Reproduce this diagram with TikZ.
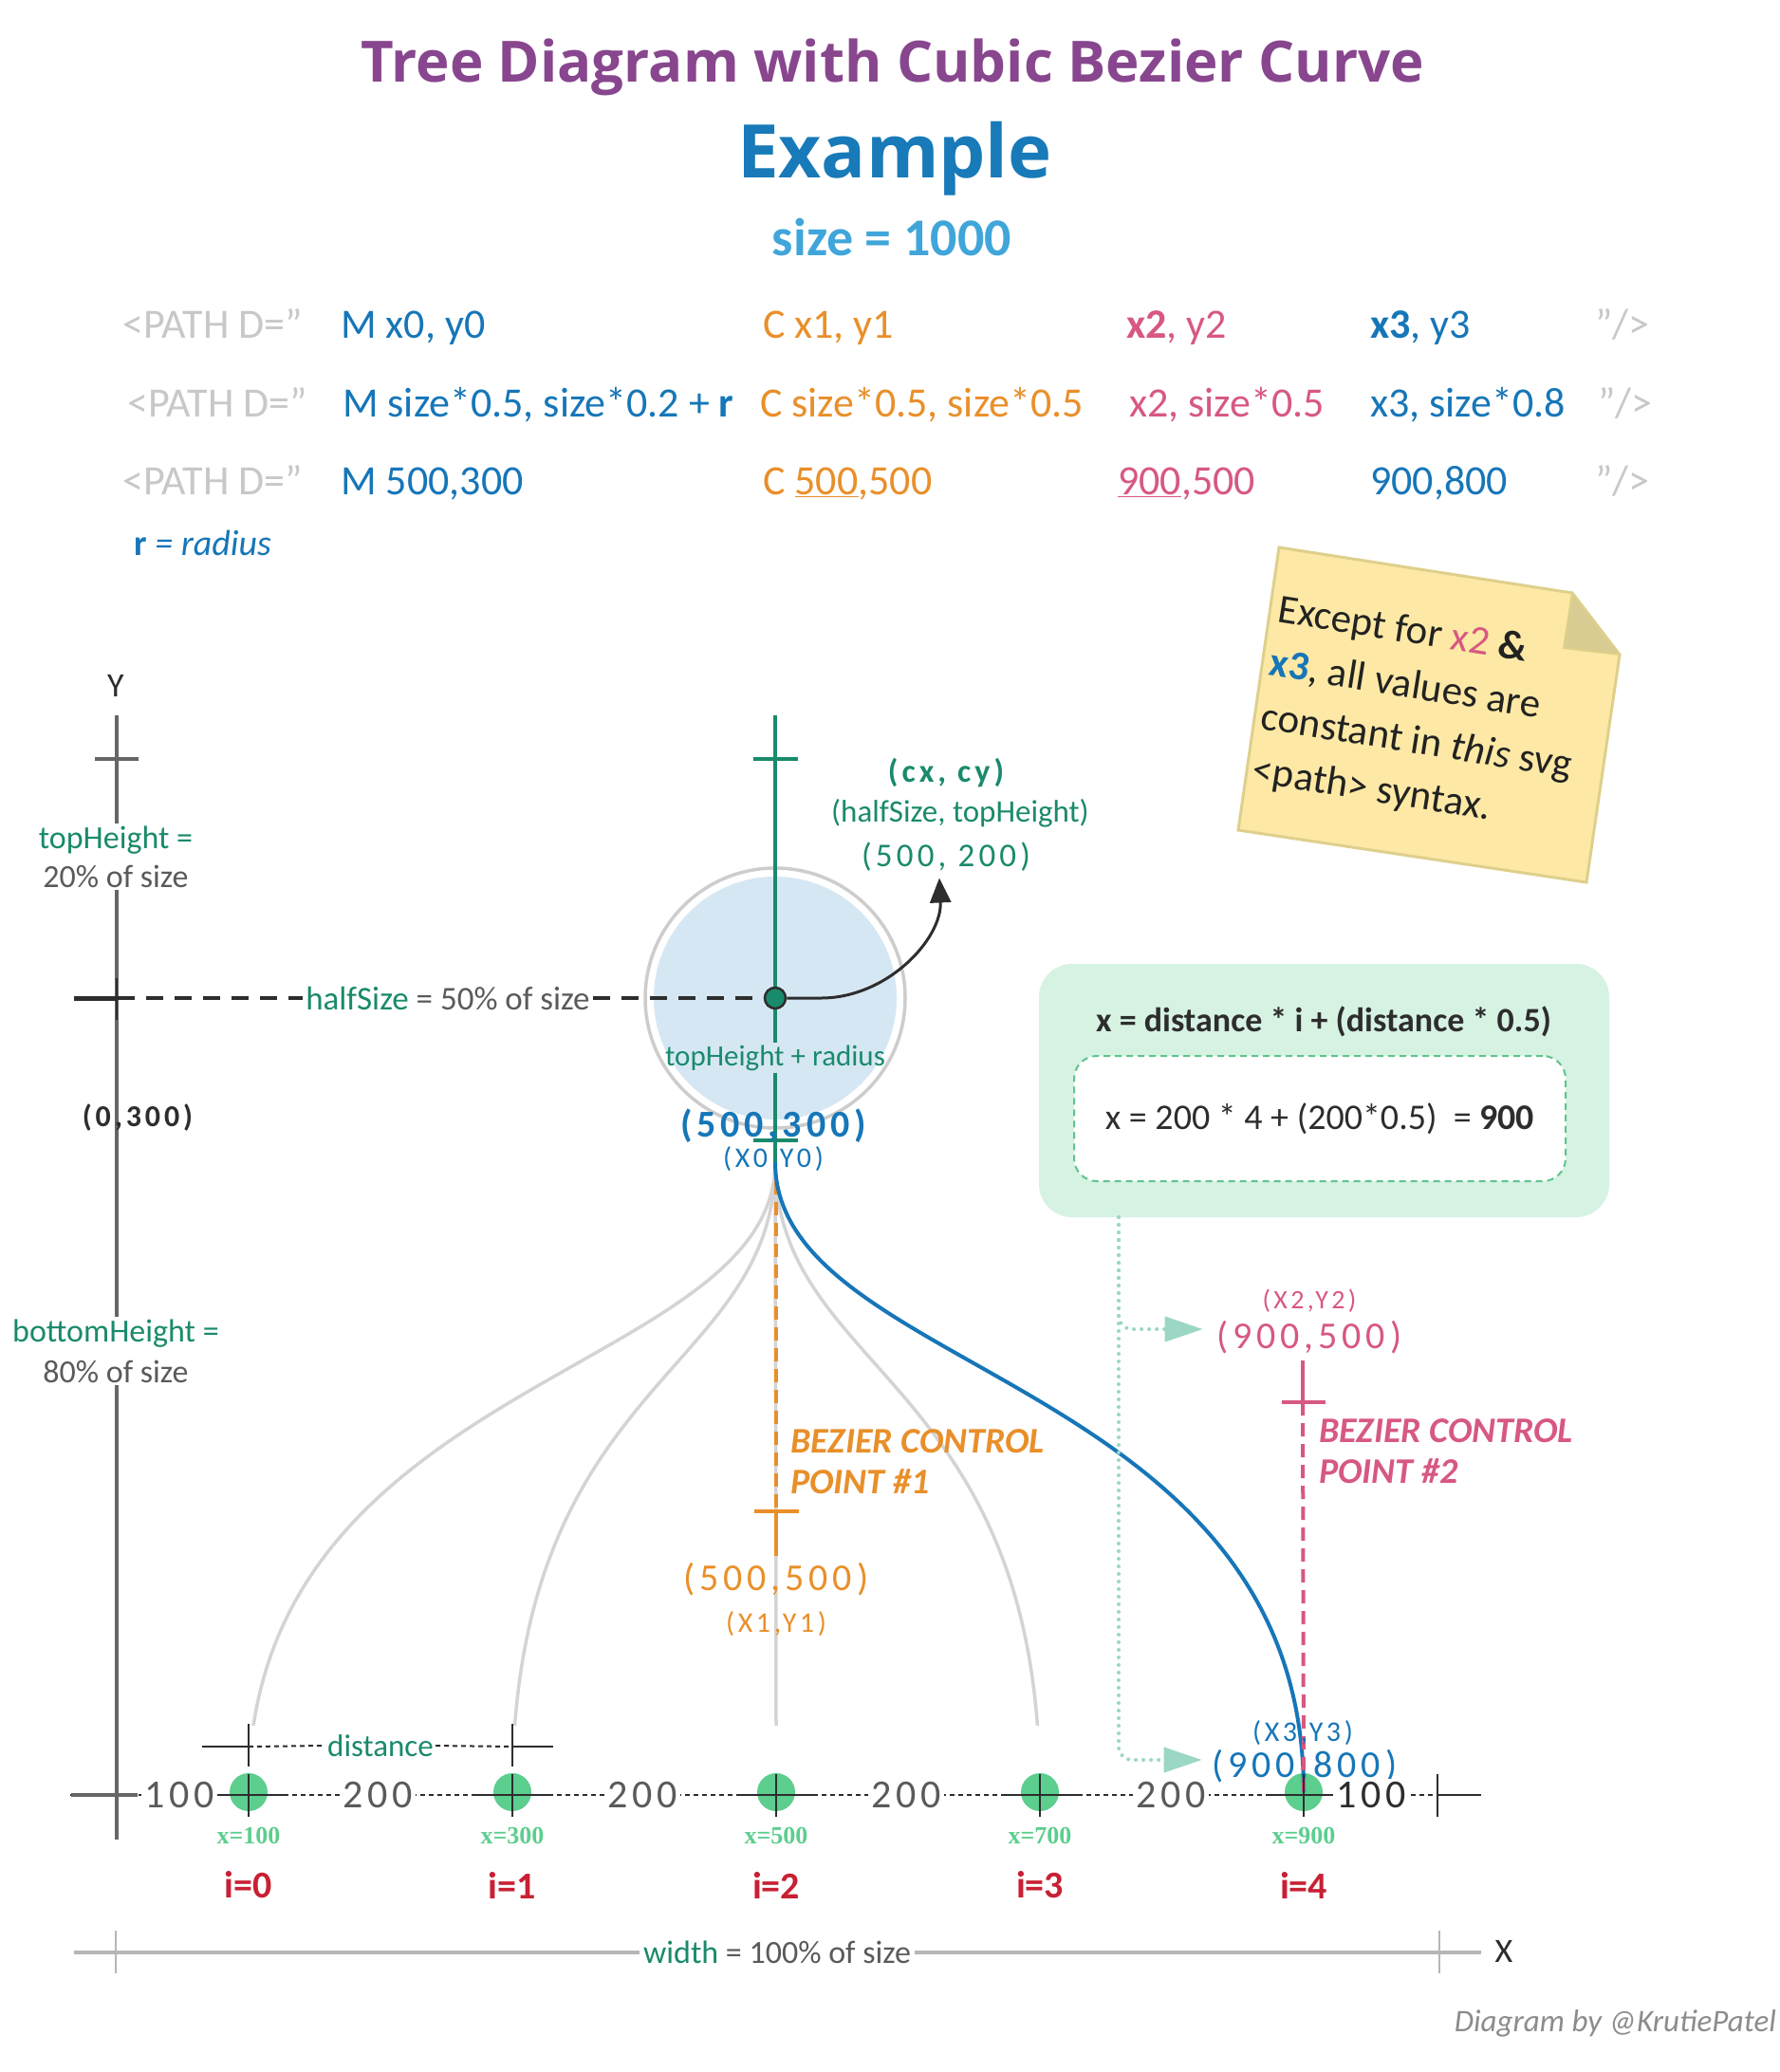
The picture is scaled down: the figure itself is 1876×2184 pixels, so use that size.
\documentclass[tikz,border=0pt]{standalone}
\usepackage{fontspec}
\setmainfont{Carlito}
\newfontfamily\headfont{Open Sans}
\newfontfamily\numfont{Carlito}[LetterSpace=12]
\newfontfamily\leaffont{Liberation Serif}
\usetikzlibrary{arrows.meta,calc}
\newcommand{\setfs}[2]{\fontsize{#1}{#2}\selectfont}

\definecolor{titlepurple}{RGB}{136,70,142}
\definecolor{exblue}{RGB}{24,122,184}
\definecolor{sizeblue}{RGB}{64,166,218}
\definecolor{codegray}{RGB}{200,200,200}
\definecolor{codeblue}{RGB}{22,118,184}
\definecolor{codeorange}{RGB}{233,143,42}
\definecolor{codepink}{RGB}{215,88,130}
\definecolor{darkgreen}{RGB}{26,138,108}
\definecolor{midgray}{RGB}{90,90,90}
\definecolor{axisgray}{RGB}{102,102,102}
\definecolor{darkline}{RGB}{45,45,45}
\definecolor{circlefill}{RGB}{214,231,244}
\definecolor{ringgray}{RGB}{205,205,205}
\definecolor{treegray}{RGB}{212,212,212}
\definecolor{leafgreen}{RGB}{92,206,142}
\definecolor{ired}{RGB}{200,32,52}
\definecolor{boxgreen}{RGB}{214,242,227}
\definecolor{dashgreen}{RGB}{95,196,140}
\definecolor{tealarrow}{RGB}{155,215,196}
\definecolor{notefill}{RGB}{253,233,165}
\definecolor{noteedge}{RGB}{222,208,140}
\definecolor{notefold}{RGB}{216,204,146}
\definecolor{notetext}{RGB}{34,34,34}
\definecolor{widthgray}{RGB}{182,182,182}
\definecolor{creditgray}{RGB}{140,140,140}

\tikzset{
  code/.style={anchor=base west, inner sep=0pt, font=\setfs{44}{50}},
  wlbl/.style={fill=white, inner sep=3pt},
  numlbl/.style={inner sep=1pt, font=\numfont\setfs{40}{46}},
  smalllbl/.style={inner sep=1pt, font=\numfont\setfs{30}{34}},
  bezlbl/.style={anchor=west, align=left, inner sep=0pt, font=\bfseries\itshape\setfs{38}{43}},
  axisline/.style={draw=axisgray, line width=4pt},
  greenline/.style={draw=darkgreen, line width=4pt},
  tickline/.style={draw=darkline, line width=2.5pt},
  dimline/.style={draw=darkline, line width=2pt, dash pattern=on 5pt off 4pt},
  halfdash/.style={draw=darkline, line width=4.5pt, dash pattern=on 18pt off 12pt},
  orangedash/.style={draw=codeorange, line width=4pt, dash pattern=on 14pt off 8pt},
  pinkdash/.style={draw=codepink, line width=4pt, dash pattern=on 14pt off 8pt},
  branch/.style={draw=treegray, line width=3.5pt},
  bluecurve/.style={draw=codeblue, line width=4pt},
  leaf/.style={circle, fill=leafgreen, minimum size=40pt, inner sep=0pt},
  dotline/.style={draw=tealarrow, line width=4pt, dash pattern=on 0pt off 8pt, line cap=round,
    rounded corners=14pt, -{Triangle[length=40pt,width=26pt]}},
  widthline/.style={draw=widthgray, line width=4.5pt}
}

\begin{document}
\begin{tikzpicture}[x=1pt, y=-1pt]
\useasboundingbox[fill=white] (0,0) rectangle (1876,2184);

%% heading
\node[anchor=base, text=titlepurple, font=\headfont\bfseries\setfs{60}{66}] (title) at (941,86) {Tree Diagram with Cubic Bezier Curve};
\node[anchor=base, text=exblue, font=\headfont\bfseries\setfs{78}{86}] (example) at (943,187) {Example};
\node[anchor=base, text=sizeblue, font=\bfseries\setfs{56}{62}] (sizeval) at (940,269) {size = 1000};

%% the three path rows
\node[code, text=codegray] (r1a) at (129,356) {<PATH D="};
\node[code, text=codeblue] (r1b) at (359,356) {M x0, y0};
\node[code, text=codeorange] (r1c) at (804,356) {C x1, y1};
\node[code, text=codepink] (r1d) at (1187,356) {\textbf{x2}, y2};
\node[code, text=codeblue] (r1e) at (1444,356) {\textbf{x3}, y3};
\node[code, text=codegray] (r1f) at (1681,356) {"/>};
\node[code, text=codegray] (r2a) at (134,439) {<PATH D="};
\node[code, text=codeblue] (r2b) at (361,439) {M size*0.5, size*0.2 + \textbf{r}};
\node[code, text=codeorange] (r2c) at (801,439) {C size*0.5, size*0.5};
\node[code, text=codepink] (r2d) at (1190,439) {x2, size*0.5};
\node[code, text=codeblue] (r2e) at (1444,439) {x3, size*0.8};
\node[code, text=codegray] (r2f) at (1684,439) {"/>};
\node[code, text=codegray] (r3a) at (129,521) {<PATH D="};
\node[code, text=codeblue] (r3b) at (359,521) {M 500,300};
\node[code, text=codeorange] (r3c) at (804,521) {C \underline{500},500};
\node[code, text=codepink] (r3d) at (1178,521) {\underline{900},500};
\node[code, text=codeblue] (r3e) at (1444,521) {900,800};
\node[code, text=codegray] (r3f) at (1681,521) {"/>};
\node[code, text=codeblue, font=\itshape\setfs{38}{44}] (rdef) at (141,585) {\textbf{\upshape r} = radius};

%% sticky note
\filldraw[fill=notefill, draw=noteedge, line width=3pt] (1348,577) -- (1657,625) coordinate (n2)
  -- (1707,690) coordinate (n3) -- (1672,930) -- (1305,875) -- cycle;
\filldraw[fill=notefold, draw=noteedge, line width=2pt] (n2) -- (1648,683) -- (n3) -- cycle;
\node[rotate=-9, anchor=north west, align=left, inner sep=0pt, text=notetext, font=\setfs{43}{57}] (notetxt) at (1350,626)
  {Except for {\color{codepink}x2} \textbf{\&}\\{\color{codeblue}\bfseries x3}, all values are\\constant in \textit{this} svg\\<path> syntax.};

%% y axis
\draw[axisline] (123,754) -- (123,1939);
\node[font=\setfs{36}{40}, text=darkline] (ylabel) at (122,723) {Y};
\draw[axisline] (100,800) -- (146,800);
\draw[darkline, line width=5pt] (78,1052) -- (124,1052);
\draw[darkline, line width=2.5pt] (123,1031) -- (123,1075);
\node[wlbl, align=center, font=\setfs{34}{41}] (toplbl) at (122,903)
  {{\color{darkgreen}topHeight =}\\{\color{midgray}20\% of size}};
\node[wlbl, align=center, font=\setfs{34}{43}] (botlbl) at (122,1424)
  {{\color{darkgreen}bottomHeight =}\\{\color{midgray}80\% of size}};
\node[smalllbl, font=\numfont\bfseries\setfs{32}{36}, text=darkline] (o300) at (145,1178) {(0,300)};

%% circle of the root
\coordinate (ctr) at (817,1052);
\fill[circlefill] (ctr) circle (128pt);
\draw[ringgray, line width=3.5pt] (ctr) circle (137pt);
\node[inner sep=2pt, text=darkgreen, font=\setfs{31}{35}] (thr) at (817,1115) {topHeight + radius};
\draw[greenline] (817,754) -- (thr.north);
\draw[greenline] (thr.south) -- (817,1253);
\draw[greenline] (794,800) -- (841,800);
\draw[greenline] (794,1202) -- (841,1202);

\node[inner sep=3pt, font=\setfs{35}{40}] (hs) at (472,1052) {{\color{darkgreen}halfSize} {\color{midgray}= 50\% of size}};
\draw[halfdash] (124,1052) -- (hs.west);
\draw[halfdash] (hs.east) -- (ctr);

\node[smalllbl, font=\numfont\bfseries\setfs{34}{38}, text=darkgreen] (ccx) at (997,815) {(cx, cy)};
\node[inner sep=1pt, font=\setfs{33}{37}, text=darkgreen] (chalf) at (1012,857) {(halfSize, topHeight)};
\node[inner sep=1pt, font=\numfont\setfs{35}{40}, text=darkgreen] (cval) at (997,903) {(500, 200)};
\node[circle, fill=darkgreen, draw=darkline, line width=2.5pt, minimum size=22pt, inner sep=0pt] (cdot) at (ctr) {};
\draw[darkline, line width=3pt, -{Triangle[length=26pt,width=22pt]}] (cdot.east) -- ++(36,0)
  .. controls +(70,0) and ($(cval.south)+(-4,70)$) .. ($(cval.south)+(-7,6)$);

\node[numlbl, font=\numfont\bfseries\setfs{40}{46}, text=codeblue] (x0val) at (815,1187) {(500,300)};
\node[smalllbl, text=codeblue] (x0lbl) at (815,1222) {(X0,Y0)};

%% leaves and branches
\coordinate (root) at (817,1225);
\foreach \i in {0,...,4}
  \node[leaf] (leaf\i) at ({262+278*\i},1889) {};
\begin{scope}
  \clip (0,0) rectangle (1876,1818);
  \foreach \i in {0,...,3}
    \draw[branch] (root) .. controls ($(root)+(0,225)$) and ($(leaf\i.center)+(0,-439)$) .. (leaf\i.center);
\end{scope}

%% control point 1
\draw[orangedash] (818,1245) -- (818,1593) coordinate (cp1);
\draw[codeorange, line width=4pt] (795,1593) -- (842,1593) (cp1) -- (818,1640);
\node[bezlbl, text=codeorange] (bez1) at (833,1541) {BEZIER CONTROL\\POINT \#1};
\node[numlbl, text=codeorange] (p1val) at (818,1665) {(500,500)};
\node[smalllbl, text=codeorange] (p1lbl) at (818,1712) {(X1,Y1)};

%% the blue path
\draw[bluecurve] (root) .. controls ($(root)+(0,225)$) and ($(leaf4.center)+(0,-439)$) .. (leaf4.center);

%% control point 2
\draw[codepink, line width=4pt] (1373,1434) -- (1373,1478) coordinate (cp2) (1351,1478) -- (1397,1478);
\draw[pinkdash] (cp2) -- (leaf4.center);
\node[bezlbl, text=codepink] (bez2) at (1390,1530) {BEZIER CONTROL\\POINT \#2};
\node[smalllbl, font=\numfont\setfs{28}{32}, text=codepink] (p2lbl) at (1380,1371) {(X2,Y2)};
\node[numlbl, text=codepink] (p2val) at (1380,1410) {(900,500)};
\node[smalllbl, text=codeblue] (p3lbl) at (1373,1827) {(X3,Y3)};
\node[numlbl, text=codeblue] (p3val) at (1375,1862) {(900,800)};

%% formula box
\node[fill=boxgreen, rounded corners=35pt, minimum width=601pt, minimum height=267pt, inner sep=0pt] (fbox) at (1395.5,1149.5) {};
\node[inner sep=1pt, text=darkline, font=\bfseries\setfs{36}{40}] (ftext) at (1395,1077) {x = distance * i + (distance * 0.5)};
\node[draw=dashgreen, fill=white, line width=2pt, dash pattern=on 7pt off 5pt, rounded corners=24pt,
  minimum width=518pt, minimum height=132pt, text=darkline, font=\setfs{38}{42}] (ibox) at (1391,1179)
  {x = 200 * 4 + (200*0.5) \ = \textbf{900}};
\coordinate (dtop) at (1179,1283);
\draw[dotline] (dtop) |- ($(p2val.west)+(-14,-9)$);
\draw[dotline] (dtop) |- ($(p3val.west)+(-10,-7)$);

%% bottom scale
\draw[dimline] (74,1892) -- (1561,1892);
\draw[axisline] (75,1892) -- (145,1892);
\foreach \i in {0,...,4} {
  \draw[tickline] ($(leaf\i.center)+(-40,3)$) -- ($(leaf\i.center)+(40,3)$);
  \draw[tickline] ($(leaf\i.center)+(0,-19)$) -- ($(leaf\i.center)+(0,26)$);
}
\draw[tickline] (1515,1870) -- (1515,1915);
\draw[tickline] (1515,1892) -- (1561,1892);
\node[wlbl, font=\numfont\setfs{42}{46}, text=midgray] (gapl) at (189,1892) {100};
\foreach \x in {398,677,955,1234}
  \node[wlbl, font=\numfont\setfs{42}{46}, text=midgray] (gap\x) at (\x,1892) {200};
\node[wlbl, font=\numfont\setfs{42}{46}, text=darkline] (gapr) at (1445,1892) {100};

\draw[tickline] (262,1817) -- (262,1862);
\draw[tickline] (540,1817) -- (540,1862);
\draw[tickline] (213,1841) -- (262,1841) (540,1841) -- (583,1841);
\node[wlbl, inner sep=2pt, text=darkgreen, font=\setfs{33}{37}] (dist) at (401,1840) {distance};
\draw[dimline] (262,1841) -- (dist.west);
\draw[dimline] (dist.east) -- (540,1841);

\foreach \i/\v in {0/100,1/300,2/500,3/700,4/900} {
  \node[inner sep=1pt, text=leafgreen, font=\leaffont\bfseries\setfs{26}{30}] (xv\i) at ({262+278*\i},1935) {x=\v};
  \node[inner sep=1pt, text=ired, font=\bfseries\setfs{40}{44}] (iv\i) at ({262+278*\i},1987) {i=\i};
}

%% width
\node[wlbl, inner sep=4pt, font=\setfs{34}{38}] (wlabel) at (819,2058) {{\color{darkgreen}width} {\color{midgray}= 100\% of size}};
\draw[widthline] (78,2058) -- (wlabel.west);
\draw[widthline] (wlabel.east) -- (1561,2058);
\draw[draw=widthgray, line width=2.5pt] (122,2035) -- (122,2080);
\draw[draw=widthgray, line width=2.5pt] (1517,2035) -- (1517,2080);
\node[font=\setfs{36}{40}, text=darkline] (xlabel) at (1585,2057) {X};

\node[anchor=east, inner sep=0pt, text=creditgray, font=\itshape\setfs{33}{37}] (credit) at (1872,2133) {Diagram by @KrutiePatel};
\end{tikzpicture}
\end{document}
